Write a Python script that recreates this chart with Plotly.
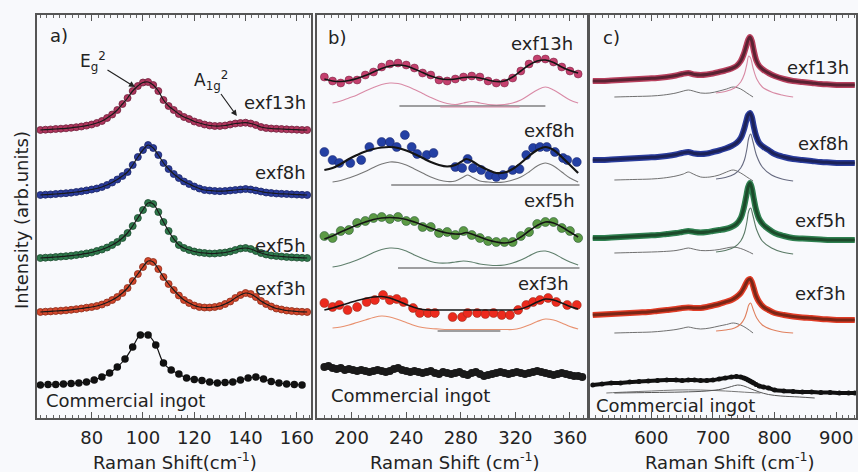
import plotly.graph_objects as go

# ---------------- Panel a) low-frequency modes ----------------
a_x = [60,62,64,66,68,70,72,74,76,78,80,82,84,86,88,90,92,94,96,98,100,102,104,106,108,110,
       112,114,116,118,120,122,124,126,128,130,132,134,136,138,140,142,144,146,148,150,152,154,
       156,158,160,162,164]
a_exf13h = [0,0.3,0.6,1,1.3,1.7,2.2,2.8,3.5,4.4,5.5,7,9,12,15.5,20,26,32,39,44,47.5,48,45,39,30,24,
            20,16,13,11,8.5,7,5.5,4.5,4,4,4.5,5.5,6.5,7,7.3,6.5,5,3,2,1.5,1.2,1,0.7,0.5,0.3,0,0]
a_exf8h = [0,0.3,0.6,1,1.4,1.8,2.3,3,3.7,4.6,5.5,6.5,8,10,12.5,15.5,19,23,30,38,45,50,47,40,32,26,
           21,17,13.5,11,8.5,6.5,5,4.5,4,3.8,4,4.5,5,5.5,6,5.5,4.5,3.5,2.5,2,1.5,1.2,1,0.7,0.4,0.2,0]
a_exf5h = [0,0.3,0.6,1,1.4,1.8,2.3,3,3.7,4.6,5.5,7,8.5,10.5,13,16,20,25,32,40,48,55,54,46,36,27,
           19,13,10,8,6.5,5.5,5,4.5,4.5,5,5.5,6.5,8,9.5,10,9,7,5,3.5,2.5,2,1.5,1,0.7,0.4,0.2,0]
a_exf3h = [0,0.3,0.6,1,1.3,1.7,2.2,2.8,3.5,4.3,5,6,7.5,9.5,12,15,19,24,31,38,45,51,50,43,35,28,
           22,16.5,12,9,6.5,5,4.5,4.5,5,6,8,10.5,14,17,19,18,15,11,8,5.5,3.5,2.5,1.5,1,0.5,0.2,0]
a_comm_x = [60,63,66,69,72,75,78,81,84,87,90,93,96,99,102,105,108,111,114,117,120,123,126,129,
            132,135,138,141,144,147,150,153,156,159,162]
a_comm = [0,0.5,0.5,1,1.5,2,3,5,8,12,18,26,38,50,50,40,22,15,11,7,5.5,4.5,3,2,2.5,3,5,7,8,6,
          3.5,2,1,0.5,0]
a_offsets = {"exf13h": 288, "exf8h": 223, "exf5h": 160, "exf3h": 106, "Commercial ingot": 33}
a_ticks = [80, 100, 120, 140, 160]

# ---------------- Panel b) mid-frequency modes ----------------
b_x6 = [180,186,192,198,204,210,216,222,228,234,240,246,252,258,264,270,276,282,288,294,300,306,
        312,318,324,330,336,342,348,354,360,366]
b_xf = [180,186,192,198,204,210,216,222,228,234,240,246,252,258,264,270,276,280,284,288,294,300,
        306,312,318,324,330,336,342,348,354,360,366]
b_xc = [186,192,198,204,210,216,222,228,234,240,246,252,258,264,270,276,282,288,294,300,306,312,
        318,324,330,336,342,348,354,360,366]
b_xc8 = [186,192,198,204,210,216,222,228,234,240,246,252,258,264,270,276,282,285,288,294,300,306,
         312,318,324,330,336,342,348,354,360,366]

b13_pts = [341,337,335,338,338,343,346,351,354,355,353,350,345,343,338,337,339,341,342,341,337,335,
           335,340,347,354,359,359,356,351,347,344]
b13_fit = [339,337,336.5,337.5,339.5,342.5,346,349.5,352,353,352,349,345.5,342,339.5,338.5,339,
           340.5,341,340,338,336.5,337,341,347,353,357,358,355.5,351,347.5,345]
b13_comp = [315,317,320,323,327,330.5,333.5,335,334.5,332,328.5,324.5,320.5,317,314.5,313.5,315,
            316.5,315,313.5,313,313.5,315,318,323,328,331,328,323,318,315]

b8_x = [180,186,191,199,207,213,222,228,233,239,244,248,255,260,276,281,285,289,295,301,306,311,
        318,323,328,333,338,343,349,355,358,365]
b8_pts = [266,258,255,255,258,271,276,276,271,283,271,264,263,265,251,250,259,250,248,243,241,243,
          248,249,263,270,271,271,266,260,258,256]
b8_fit = [248,250,254,259,263,266.5,269,270.5,271,270,267.5,264,260,256,253,251.5,253,256,259,257,
          252,248,245,245.5,249,255,262,268,271,268,261,253,245]
b8_comp = [236,237.5,240,243,246.5,250.5,254,256,255.5,253,249,245,241,238,236.5,237,241,243,241,
           237,236,235.5,236,238,241,246,252,255,252,246,240,236]

b5_pts = [182,180,187,188,195,197,200,201,199,201,197,197,191,191,185,186,183,187,183,180,177,176,
          176,176,182,186,194,196,196,190,187,180]
b5_fit = [179,182,186,189.5,193,196,198.5,200,200.5,200,198.5,196,193,190,187,185,184,184,185.5,
          184,181,178,176,175,176.5,181,187,192.5,196,195,191,186,181]
b5_comp = [151,152.5,155,158,161.5,165.5,168.5,170,169.5,167,163,159.5,156.5,155,155,156,157,156,
           154,153,152.5,153,155,158,162,166,167,164.5,160,156,153]

b3_x = [180,186,191,197,204,211,217,223,228,233,238,245,250,256,261,274,281,285,292,298,304,310,
        316,322,328,333,338,344,350,358,365]
b3_pts = [115,111,113,108,111,116,118,123,118,119,116,110,105,105,105,101,101,105,105,104,105,103,
          103,108,113,116,118,120,116,113,113]
b3_fit = [108,110,112.5,115,117.5,119.5,121,121.5,120,117,113.5,110.5,108.5,108,108,108,108,108,
          108,108,108,108,108,108,109,112,116,119,118,115,111.5,109]
b3_comp = [90,91,93,95.5,98,100.5,102,101,98.5,95.5,92.5,90.5,89.5,89,88.5,88.5,88.5,88.5,88.5,
           88.5,88.5,88.5,88.5,90,93,96.5,99,98,95,91.5,89]

b_comm_x = [180,183,186,189,192,195,198,201,204,207,210,213,216,219,222,225,228,231,234,237,240,
            243,246,249,252,255,258,261,264,267,270,273,276,279,282,285,288,291,294,297,300,303,
            306,309,312,315,318,321,324,327,330,333,336,339,342,345,348,351,354,357,360,363,366,369]
b_comm = [51,52,50,49,50,48,49,48,47,48,47,46,47,48,47,46,47,49,50,48,47,46,47,46,45,46,47,45,44,
          46,45,44,45,46,44,43,45,46,44,42,43,44,45,46,45,44,45,46,45,44,45,46,47,46,45,44,43,44,
          45,44,43,42,42,41]

# baseline segments of the fits: (x_start, x_end, level)
b_base = {"exf13h": [(235, 342, 312), (265, 323, 311)], "exf8h": [(229, 367, 233)],
          "exf5h": [(234, 367, 150)], "exf3h": [(263, 309, 87)]}

# ---------------- Panel c) high-frequency modes ----------------
c_x = [505,520,535,550,565,580,595,610,625,640,650,660,670,680,690,700,710,720,730,738,745,750,
       754,757,760,763,766,770,775,782,790,800,815,830,845,860,875,890,905,920,930]
c13 = [337,337,337.5,338,338.5,339,339.5,340,341,342.5,344,345,343.5,343,343.5,344.5,346,347.5,
       349.5,352,357,364,372,378,381,377,368,358,352,348,345,342,339,337,336,335,334,333.5,333,333,333]
c8 = [258,258,258.5,259,259.5,260,260.5,261,262,263.5,265,266,264.5,264,264.5,266,267.5,269.5,272,
      275,280,288,297,303,305,301,292,282,275,271,268,264,261,259,258,257,256,255.5,255,255,255]
c5 = [180,180,180.5,181,181.5,182,182.5,183,184,185,186,187,186,185.5,186,187,188,189,191,194,200,
      210,222,231,235,230,220,208,199,193,189,185,182,180,179.5,179,178.5,178,178,178,178]
c3 = [103,103.5,104,104.5,105,105.5,106,107,108,109,110,110.5,110,110,111,112.5,114,116,118,121,
      125,130,135,138,139,136,130,122,116,111,108,105,103,101.5,100.5,100,99,98.5,98,98,98]
c_comm = [33,34,35,35,36,36.5,37,37.5,38,38,37.5,38,38,37.5,37.5,38,39,40,41,41.5,41,40,39,38,37,
          36,35,33.5,32,31,30,28,27,26.5,26,26,25.5,25.5,25,25,25]

c_sx = [705,720,735,745,751,755,758,761,765,771,780,795,812,830]
c_bx = [540,570,600,620,640,652,660,668,680,695,710,722,733,745,755,765]
c13_s = [325,326.5,330,336,344,354,362,360,350,339,331,326,323,321]
c13_b = [321,321.5,322,323,325,327,328,327,325,325,327,329,331,329,325,321]
c8_s = [239,240.5,244,250,258,269,280,284,276,262,251,243,239,237]
c8_b = [238,238.5,239,240,242,244,246,244,241,241,243,246,248,245,241,237]
c5_s = [166,167.5,171,177,185,196,207,210,202,188,177,170,166,164]
c5_b = [165,165.5,166,166.5,167.5,169,170,169,167.5,167.5,168.5,170,171,169.5,167,164]
c3_s = [87,88,90,94,99.5,106.5,113,115,109,100,93,88.5,86,85]
c3_b = [85,85.5,86,87,88.5,90,91,90,89,90,92,93.5,95,93,89.5,85]
cc_sx = [540,600,650,690,715,730,740,750,762,775,790,810,840,865]
cc_s = [25,25.5,26,27,29,31.5,33,32,29,26,23.5,22,21,20]
cc_bx = [527,560,600,640,680,720,760,777]
cc_b = [25,26,27,28,28,27,25.5,25]

labels = ["exf13h", "exf8h", "exf5h", "exf3h", "Commercial ingot"]

# ---------------- styles ----------------
FONT = "DejaVu Sans"
col_a = {"exf13h": "#b0365e", "exf8h": "#2a3c9c", "exf5h": "#2f7a4c", "exf3h": "#d4482c",
         "Commercial ingot": "#111111"}
edge_a = {"exf13h": "#6e1f3a", "exf8h": "#1a2466", "exf5h": "#1c4a2e", "exf3h": "#8a2a18",
          "Commercial ingot": "#000000"}
col_b = {"exf13h": "#c4406e", "exf8h": "#2440a4", "exf5h": "#5c9a45", "exf3h": "#ec2a1e"}
comp_b = {"exf13h": "#d98aa6", "exf8h": "#777777", "exf5h": "#5f7f6c", "exf3h": "#e8906e"}
col_c = {"exf13h": "#b8405e", "exf8h": "#2a3c9c", "exf5h": "#2f8050", "exf3h": "#e03c26"}
line_c = {"exf13h": "#5a2232", "exf8h": "#1c2258", "exf5h": "#1c4a2a", "exf3h": "#7a2616"}
comp_c = {"exf13h": "#d88aa4", "exf8h": "#666a80", "exf5h": "#5a7a66", "exf3h": "#e0805e"}

fig = go.Figure()

# ---- panel a traces
a_series = {"exf13h": a_exf13h, "exf8h": a_exf8h, "exf5h": a_exf5h, "exf3h": a_exf3h}
for name, rel in a_series.items():
    ys = [a_offsets[name] + v for v in rel]
    fig.add_trace(go.Scatter(x=a_x, y=ys, mode="markers", xaxis="x", yaxis="y",
                             marker=dict(size=7, color=col_a[name],
                                         line=dict(width=0.8, color=edge_a[name]))))
    fig.add_trace(go.Scatter(x=a_x, y=ys, mode="lines", xaxis="x", yaxis="y",
                             line=dict(color="#1a1a1a", width=1.2, shape="spline")))
ys = [a_offsets["Commercial ingot"] + v for v in a_comm]
fig.add_trace(go.Scatter(x=a_comm_x, y=ys, mode="lines+markers", xaxis="x", yaxis="y",
                         line=dict(color="#111111", width=1.2, shape="spline"),
                         marker=dict(size=7.5, color="#111111")))

# ---- panel b traces
b_data = [
    ("exf13h", b_x6, b13_pts, b_x6, b13_fit, b_xc, b13_comp),
    ("exf8h", b8_x, b8_pts, b_xf, b8_fit, b_xc8, b8_comp),
    ("exf5h", b_x6, b5_pts, b_xf, b5_fit, b_xc, b5_comp),
    ("exf3h", b3_x, b3_pts, b_x6, b3_fit, b_xc, b3_comp),
]
for name, px_, py_, fx, fy, cx, cy in b_data:
    fig.add_trace(go.Scatter(x=cx, y=cy, mode="lines", xaxis="x2", yaxis="y2",
                             line=dict(color=comp_b[name], width=1.1, shape="spline")))
    for (x0, x1, lev) in b_base[name]:
        fig.add_trace(go.Scatter(x=[x0, x1], y=[lev, lev], mode="lines", xaxis="x2", yaxis="y2",
                                 line=dict(color="#444444" if lev != 311 else comp_b[name],
                                           width=1.1)))
    fig.add_trace(go.Scatter(x=px_, y=py_, mode="markers", xaxis="x2", yaxis="y2",
                             marker=dict(size=9 if name != "exf13h" else 8, color=col_b[name],
                                         line=dict(width=0.5, color=edge_a[name]))))
    fig.add_trace(go.Scatter(x=fx, y=fy, mode="lines", xaxis="x2", yaxis="y2",
                             line=dict(color="#151515", width=2.2 if name == "exf8h" else 1.6,
                                       shape="spline")))
fig.add_trace(go.Scatter(x=b_comm_x, y=b_comm, mode="lines+markers", xaxis="x2", yaxis="y2",
                         line=dict(color="#111111", width=2),
                         marker=dict(size=8, color="#1a1a1a")))

# ---- panel c traces
c_data = [("exf13h", c13, c13_s, c13_b), ("exf8h", c8, c8_s, c8_b),
          ("exf5h", c5, c5_s, c5_b), ("exf3h", c3, c3_s, c3_b)]
for name, yv, ys_, yb in c_data:
    fig.add_trace(go.Scatter(x=c_bx, y=yb, mode="lines", xaxis="x3", yaxis="y3",
                             line=dict(color="#707070", width=1, shape="spline")))
    fig.add_trace(go.Scatter(x=c_sx, y=ys_, mode="lines", xaxis="x3", yaxis="y3",
                             line=dict(color=comp_c[name], width=1.1, shape="spline")))
    fig.add_trace(go.Scatter(x=c_x, y=yv, mode="lines", xaxis="x3", yaxis="y3",
                             line=dict(color=col_c[name], width=6, shape="spline")))
    fig.add_trace(go.Scatter(x=c_x, y=yv, mode="lines", xaxis="x3", yaxis="y3",
                             line=dict(color=line_c[name], width=3, shape="spline")))
fig.add_trace(go.Scatter(x=cc_bx, y=cc_b, mode="lines", xaxis="x3", yaxis="y3",
                         line=dict(color="#777777", width=1, shape="spline")))
fig.add_trace(go.Scatter(x=cc_sx, y=cc_s, mode="lines", xaxis="x3", yaxis="y3",
                         line=dict(color="#555555", width=1, shape="spline")))
fig.add_trace(go.Scatter(x=c_x, y=c_comm, mode="lines+markers", xaxis="x3", yaxis="y3",
                         line=dict(color="#111111", width=4, shape="spline"),
                         marker=dict(size=5, color="#111111")))

# ---------------- layout ----------------
W, H = 858, 472
def px(v):
    return v / W
def py(v):
    return 1 - v / H

frame = dict(showline=True, mirror="ticks", linecolor="#555555", linewidth=1.5,
             showgrid=False, zeroline=False, ticks="inside", ticklen=6, tickwidth=1,
             tickcolor="#555555", automargin=False, ticklabelstandoff=3,
             tickfont=dict(family=FONT, size=18, color="#222222"))
ydom = [py(418), py(15)]

def xaxis(dom, rng, dtick, mdt, anchor, tickvals=None):
    d = dict(frame)
    d.update(domain=dom, range=rng, anchor=anchor)
    if tickvals is None:
        d.update(dtick=dtick, tick0=0,
                 minor=dict(ticks="inside", ticklen=3, dtick=mdt, tickcolor="#666666"))
    else:
        n = int((rng[1] - rng[0]) // mdt) + 2
        start = mdt * int(rng[0] // mdt + 1)
        d.update(tickmode="array", tickvals=tickvals,
                 minor=dict(ticks="inside", ticklen=3, tickmode="array",
                            tickvals=[start + mdt * i for i in range(n)],
                            tickcolor="#666666"))
    return d

def yaxis(anchor):
    return dict(domain=ydom, range=[0, 403], anchor=anchor, showline=True, mirror=True,
                linecolor="#555555", linewidth=1.5, showgrid=False, zeroline=False,
                showticklabels=False, ticks="", automargin=False)

ann = []
def label(text, x, y, xref, yref, xanchor="left", size=18):
    ann.append(dict(text=text, x=x, y=y, xref=xref, yref=yref, xanchor=xanchor,
                    yanchor="middle", showarrow=False,
                    font=dict(family=FONT, size=size, color="#222222")))

# panel a labels
label("a)", 63, 383, "x", "y")
label("exf13h", 164.5, 316, "x", "y", "right")
label("exf8h", 164.5, 246, "x", "y", "right")
label("exf5h", 164.5, 173, "x", "y", "right")
label("exf3h", 164.5, 130, "x", "y", "right")
label("Commercial ingot", 61.5, 18, "x", "y")
ann.append(dict(text="E<sub>g</sub><sup>2</sup>", x=96.9, y=331, xref="x", yref="y",
                ax=-42, ay=-26, showarrow=True, arrowhead=2, arrowsize=1, arrowwidth=1.2,
                arrowcolor="#222222", font=dict(family=FONT, size=17, color="#222222")))
ann.append(dict(text="A<sub>1g</sub><sup>2</sup>", x=136.6, y=302, xref="x", yref="y",
                ax=-26, ay=-36, showarrow=True, arrowhead=2, arrowsize=1, arrowwidth=1.2,
                arrowcolor="#222222", font=dict(family=FONT, size=17, color="#222222")))
# panel b labels
label("b)", 181.5, 381, "x2", "y2")
label("exf13h", 364, 375, "x2", "y2", "right")
label("exf8h", 365.5, 288, "x2", "y2", "right")
label("exf5h", 365.5, 218, "x2", "y2", "right")
label("exf3h", 360.5, 135, "x2", "y2", "right")
label("Commercial ingot", 183.5, 23, "x2", "y2")
# panel c labels
label("c)", 519, 381, "x3", "y3")
label("exf13h", 924, 351, "x3", "y3", "right")
label("exf8h", 924, 275, "x3", "y3", "right")
label("exf5h", 919, 198, "x3", "y3", "right")
label("exf3h", 919, 125, "x3", "y3", "right")
label("Commercial ingot", 507, 13, "x3", "y3")

# axis titles
for text, xc in [("Raman Shift(cm<sup>-1</sup>)", 175), ("Raman Shift (cm<sup>-1</sup>)", 455),
                 ("Raman Shift (cm<sup>-1</sup>)", 730)]:
    ann.append(dict(text=text, x=px(xc), y=py(461), xref="paper", yref="paper",
                    xanchor="center", yanchor="middle", showarrow=False,
                    font=dict(family=FONT, size=18, color="#222222")))
ann.append(dict(text="Intensity (arb.units)", x=px(21), y=py(220), xref="paper", yref="paper",
                xanchor="center", yanchor="middle", textangle=-90, showarrow=False,
                font=dict(family=FONT, size=18, color="#222222")))

fig.update_layout(
    width=W, height=H, margin=dict(l=0, r=0, t=0, b=0, autoexpand=False),
    paper_bgcolor="#f8f9fc", plot_bgcolor="#f8f9fc", showlegend=False,
    xaxis=xaxis([px(37), px(311)], [58.7, 165.5], 20, 2.5, "y", tickvals=a_ticks),
    xaxis2=xaxis([px(317), px(587)], [174.6, 372.5], 40, 5, "y2"),
    xaxis3=xaxis([px(590), px(856)], [500.5, 932], 100, 10, "y3"),
    yaxis=yaxis("x"), yaxis2=yaxis("x2"), yaxis3=yaxis("x3"),
    annotations=ann,
)

fig.write_html("out.html", config={"displayModeBar": False},
               post_script="document.body.style.margin='0px';"
                           "document.body.style.overflow='hidden';"
                           "document.body.style.background='#f8f9fc';")
